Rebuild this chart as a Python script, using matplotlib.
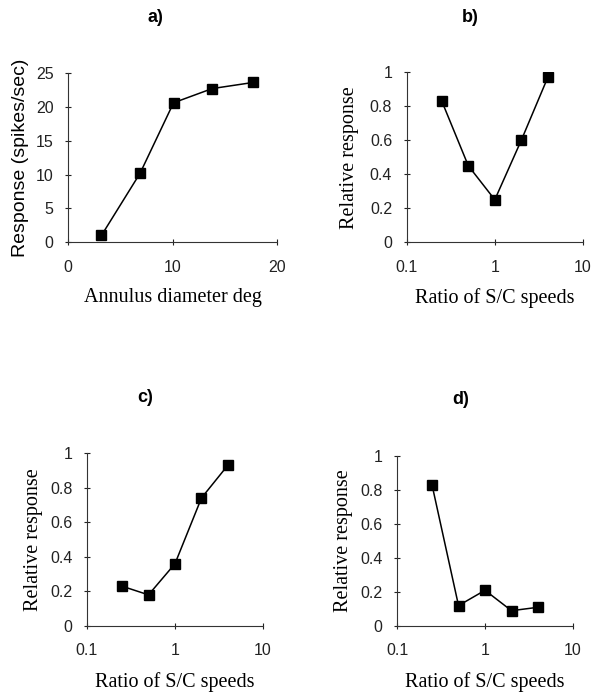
import numpy as np
from matplotlib import pyplot as plt

# panel a: response vs annulus diameter
diam_a = [3.2, 6.9, 10.1, 13.8, 17.7]
resp_a = [1.0, 10.2, 20.6, 22.7, 23.6]

# panels b-d: relative response vs ratio of surround/centre speeds
ratio = [0.25, 0.5, 1, 2, 4]
resp_b = [0.83, 0.45, 0.25, 0.60, 0.97]
resp_c = [0.23, 0.18, 0.36, 0.74, 0.93]
resp_d = [0.83, 0.12, 0.21, 0.09, 0.11]

SANS = 'Liberation Sans'
SERIF = 'Liberation Serif'


def style_axes(ax):
    for side in ('top', 'right'):
        ax.spines[side].set_visible(False)
    for side in ('left', 'bottom'):
        ax.spines[side].set_linewidth(0.8)
        ax.spines[side].set_color('#333333')
    ax.tick_params(direction='inout', length=5, width=0.8, labelsize=11.5,
                   colors='#222222')
    ax.tick_params(axis='x', pad=10)
    ax.tick_params(axis='y', pad=8)
    for lab in ax.get_xticklabels() + ax.get_yticklabels():
        lab.set_fontfamily(SANS)


def panel_title(ax, text, x, y):
    # x, y in axes fraction
    ax.text(x, y, text, transform=ax.transAxes, ha='center', va='center',
            fontfamily=SANS, fontweight='bold', fontsize=13)


def plot_ratio(ax, values, ypad):
    ax.plot(ratio, values, color='black', lw=1.1, marker='s', ms=6.5, mfc='black')
    ax.set_xscale('log')
    ax.set_xlim(0.1, 10)
    ax.set_ylim(0, 1)
    ax.set_xticks([0.1, 1, 10])
    ax.set_xticklabels(['0.1', '1', '10'])
    ax.minorticks_off()
    ax.set_yticks([0, 0.2, 0.4, 0.6, 0.8, 1])
    ax.set_yticklabels(['0', '0.2', '0.4', '0.6', '0.8', '1'])
    ax.set_ylabel('Relative response', fontfamily=SERIF, fontsize=14.5, labelpad=ypad)
    ax.set_xlabel('Ratio of S/C speeds', fontfamily=SERIF, fontsize=14.5, labelpad=10)
    style_axes(ax)


fig = plt.figure(figsize=(5.93, 6.92), dpi=100)

ax_a = fig.add_axes([0.1147, 0.650, 0.3524, 0.2445])
ax_a.plot(diam_a, resp_a, color='black', lw=1.1, marker='s', ms=6.5, mfc='black')
ax_a.set_xlim(0, 20)
ax_a.set_ylim(0, 25)
ax_a.set_xticks([0, 10, 20])
ax_a.set_yticks([0, 5, 10, 15, 20, 25])
ax_a.set_ylabel('Response (spikes/sec)', fontfamily=SANS, fontsize=14, labelpad=5)
ax_a.set_xlabel('Annulus diameter deg', fontfamily=SERIF, fontsize=14.5, labelpad=10)
style_axes(ax_a)
panel_title(ax_a, 'a)', 0.42, 1.33)

ax_b = fig.add_axes([0.686, 0.650, 0.2968, 0.2455])
plot_ratio(ax_b, resp_b, 8)
panel_title(ax_b, 'b)', 0.36, 1.32)

ax_c = fig.add_axes([0.1467, 0.0954, 0.2968, 0.250])
plot_ratio(ax_c, resp_c, 5)
panel_title(ax_c, 'c)', 0.33, 1.32)

ax_d = fig.add_axes([0.6695, 0.0954, 0.2968, 0.2456])
plot_ratio(ax_d, resp_d, 5)
panel_title(ax_d, 'd)', 0.36, 1.33)

fig.savefig('out.png', dpi=100)
